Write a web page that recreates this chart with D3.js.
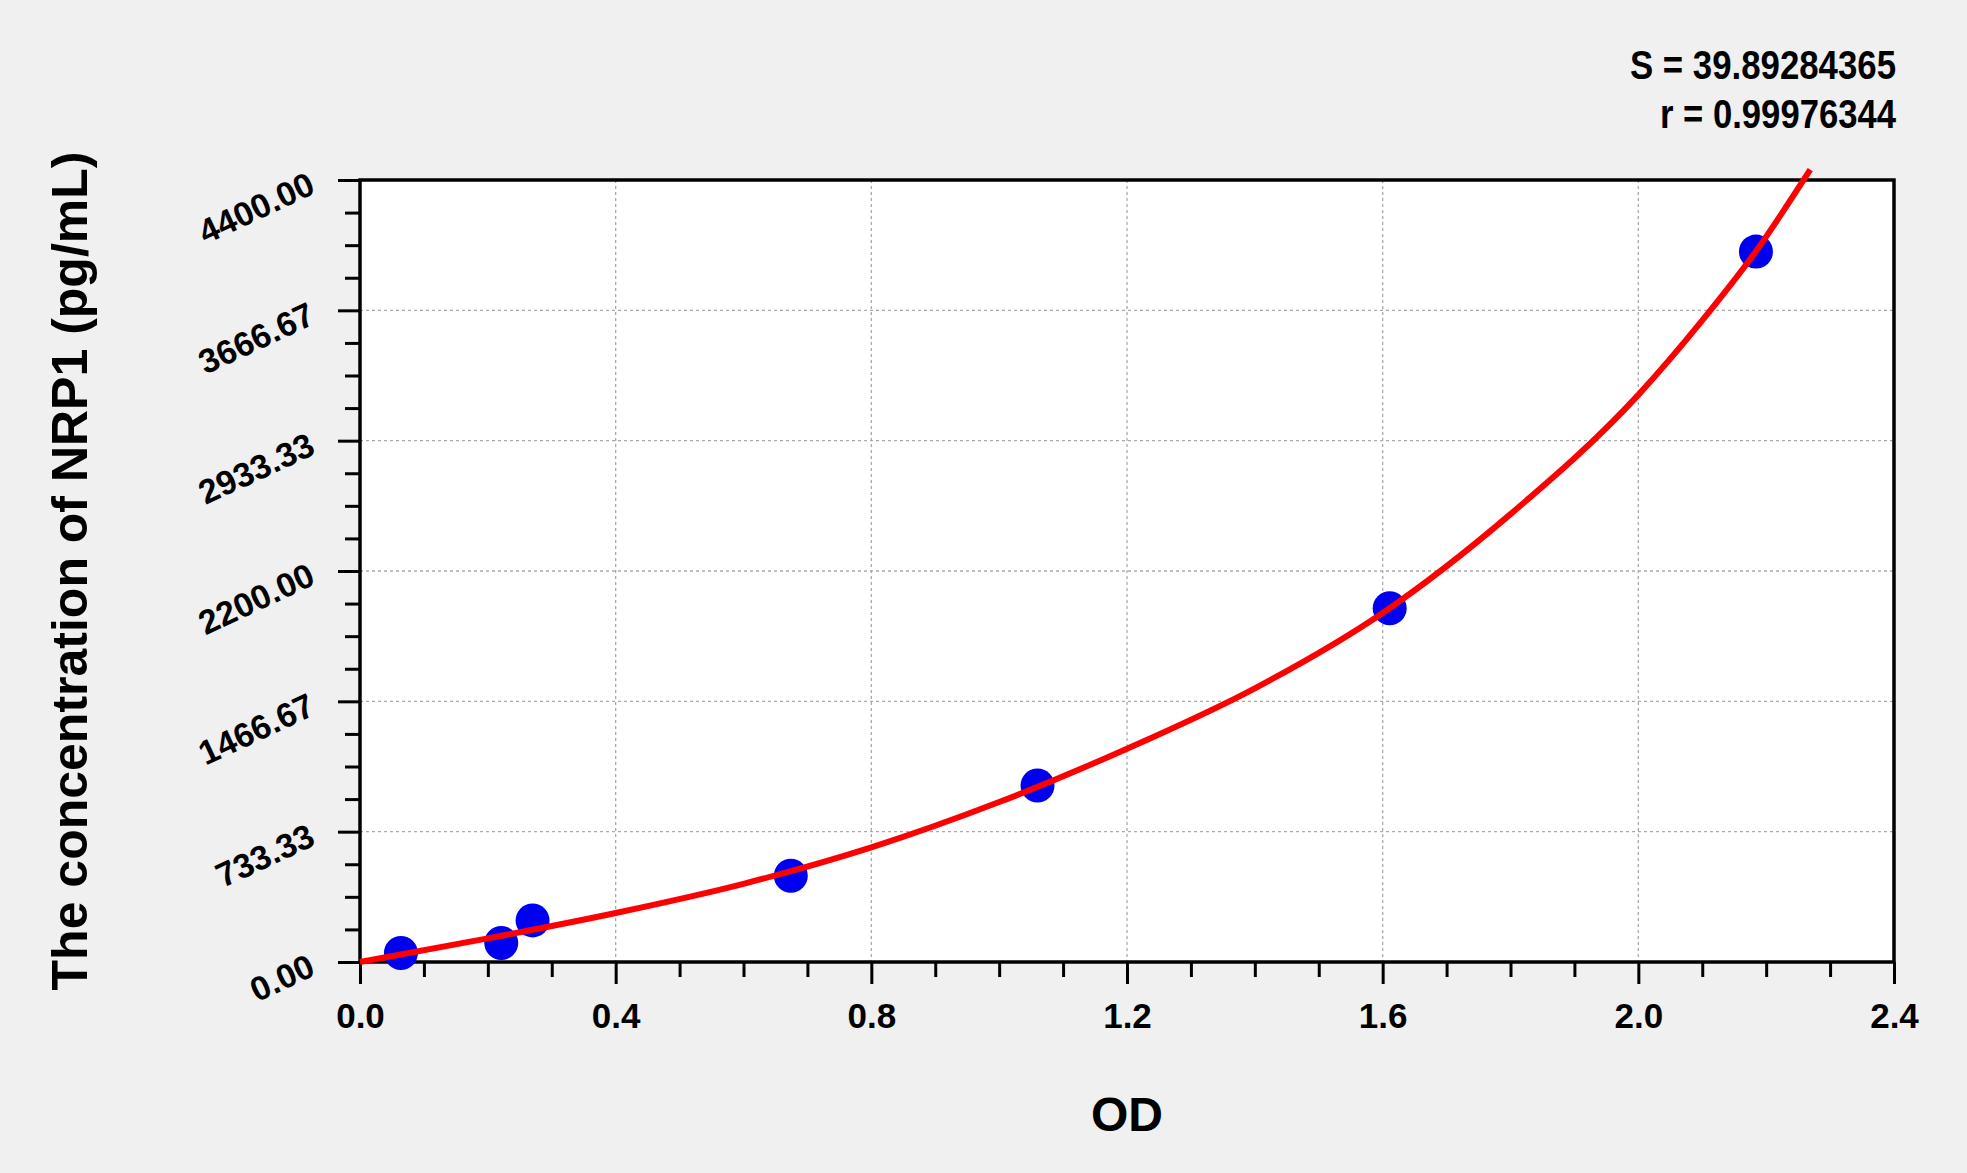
<!DOCTYPE html>
<html>
<head>
<meta charset="utf-8">
<script src="https://cdn.jsdelivr.net/npm/d3@7"></script>
<style>
  body { margin: 0; background: #f0f0f0; }
  svg { display: block; }
  text { font-family: "Liberation Sans", Arial, sans-serif; font-weight: bold; fill: #000; }
</style>
</head>
<body>
<svg id="chart"></svg>
<script>
// standard points as placed in the picture (OD, concentration in pg/mL)
const stdOD   = [0.064, 0.221, 0.270, 0.674, 1.060, 1.611, 2.184];
const stdConc = [51, 107, 234, 485, 993, 1990, 3997];

// fitted curve
const fitOD   = [0, 0.2, 0.4, 0.6, 0.8, 1.0, 1.2, 1.4, 1.6, 1.8, 2.0, 2.1, 2.184, 2.269];
const fitConc = [0, 133, 276, 440, 645, 900, 1200, 1540, 1964, 2520, 3191, 3610, 3999, 4458];

const xTicks = [0.0, 0.4, 0.8, 1.2, 1.6, 2.0, 2.4];
const yTicks = [0, 733.33, 1466.67, 2200, 2933.33, 3666.67, 4400];

const statLines = ["S = 39.89284365", "r = 0.99976344"];
const xTitle = "OD";
const yTitle = "The concentration of NRP1 (pg/mL)";

let width = 1967;
let height = 1173;
let padLeft = 360, padRight = 1894, padTop = 180, padBottom = 962;

const svg = d3.select('#chart').attr('width', width).attr('height', height);

const xScale = d3.scaleLinear().domain([0, 2.4]).range([padLeft, padRight]);
const yScale = d3.scaleLinear().domain([0, 4400]).range([padBottom, padTop]);

// minor ticks: 4 steps between majors
const xMinor = d3.range(0, 24).map(i => i * 0.1).filter((d, i) => i % 4 !== 0);
const yMinor = d3.range(0, 24).map(i => i * 4400 / 24).filter((d, i) => i % 4 !== 0);

svg.append('rect').attr('x', padLeft).attr('y', padTop)
   .attr('width', padRight - padLeft).attr('height', padBottom - padTop).attr('fill', '#fff');

// grid
const grid = svg.append('g').attr('class', 'grid');
grid.selectAll('line.gx').data(xTicks.slice(1, -1)).enter().append('line').attr('class', 'gx')
    .attr('x1', d => xScale(d)).attr('x2', d => xScale(d))
    .attr('y1', padTop).attr('y2', padBottom);
grid.selectAll('line.gy').data(yTicks.slice(1, -1)).enter().append('line').attr('class', 'gy')
    .attr('y1', d => yScale(d)).attr('y2', d => yScale(d))
    .attr('x1', padLeft).attr('x2', padRight);
grid.selectAll('line').attr('stroke', '#aaa').attr('stroke-width', 1.3).attr('stroke-dasharray', '3,3');

// axes
const xAxis = d3.axisBottom(xScale).tickValues(xTicks).tickSize(22).tickFormat(d3.format('.1f'));
const xAxisMinor = d3.axisBottom(xScale).tickValues(xMinor).tickSize(15).tickFormat('');
const yAxis = d3.axisLeft(yScale).tickValues(yTicks).tickSize(22).tickFormat(d3.format('.2f'));
const yAxisMinor = d3.axisLeft(yScale).tickValues(yMinor).tickSize(15).tickFormat('');

const gx = svg.append('g').attr('transform', 'translate(0,' + padBottom + ')').call(xAxis);
svg.append('g').attr('transform', 'translate(0,' + padBottom + ')').call(xAxisMinor);
const gy = svg.append('g').attr('transform', 'translate(' + padLeft + ',0)').call(yAxis);
svg.append('g').attr('transform', 'translate(' + padLeft + ',0)').call(yAxisMinor);

svg.selectAll('.domain').remove();
svg.selectAll('.tick line').attr('stroke', '#000').attr('stroke-width', 3);

gx.selectAll('text').attr('y', 66).attr('dy', 0)
  .style('font-size', '35px').style('font-family', '"Liberation Sans", Arial, sans-serif').style('font-weight', 'bold');
gy.selectAll('text').attr('x', null).attr('dy', 0)
  .attr('text-anchor', 'end')
  .attr('transform', 'translate(-43,12) rotate(-25)')
  .style('font-size', '34px').style('font-family', '"Liberation Sans", Arial, sans-serif').style('font-weight', 'bold');

// frame
svg.append('rect').attr('x', padLeft).attr('y', padTop)
   .attr('width', padRight - padLeft).attr('height', padBottom - padTop)
   .attr('fill', 'none').attr('stroke', '#000').attr('stroke-width', 3.5);

// points
svg.selectAll('circle').data(stdOD).enter().append('circle')
   .attr('cx', d => xScale(d))
   .attr('cy', (d, i) => yScale(stdConc[i]))
   .attr('r', 17).attr('fill', '#0000f0');

// fitted curve
const line = d3.line().x(d => xScale(d[0])).y(d => yScale(d[1])).curve(d3.curveMonotoneX);
svg.append('path').datum(fitOD.map((d, i) => [d, fitConc[i]]))
   .attr('d', line).attr('fill', 'none').attr('stroke', '#f00').attr('stroke-width', 6);

// stats
svg.append('text').attr('x', padRight + 2).attr('y', 79).attr('text-anchor', 'end')
   .attr('textLength', 266).attr('lengthAdjust', 'spacingAndGlyphs')
   .style('font-size', '40px').text(statLines[0]);
svg.append('text').attr('x', padRight + 2).attr('y', 128).attr('text-anchor', 'end')
   .attr('textLength', 236).attr('lengthAdjust', 'spacingAndGlyphs')
   .style('font-size', '40px').text(statLines[1]);

// titles
svg.append('text').attr('x', (padLeft + padRight) / 2).attr('y', 1131).attr('text-anchor', 'middle')
   .style('font-size', '48px').text(xTitle);
svg.append('text').attr('transform', 'translate(87,' + ((padTop + padBottom) / 2) + ') rotate(-90)')
   .attr('text-anchor', 'middle').style('font-size', '50px').text(yTitle);
</script>
</body>
</html>
